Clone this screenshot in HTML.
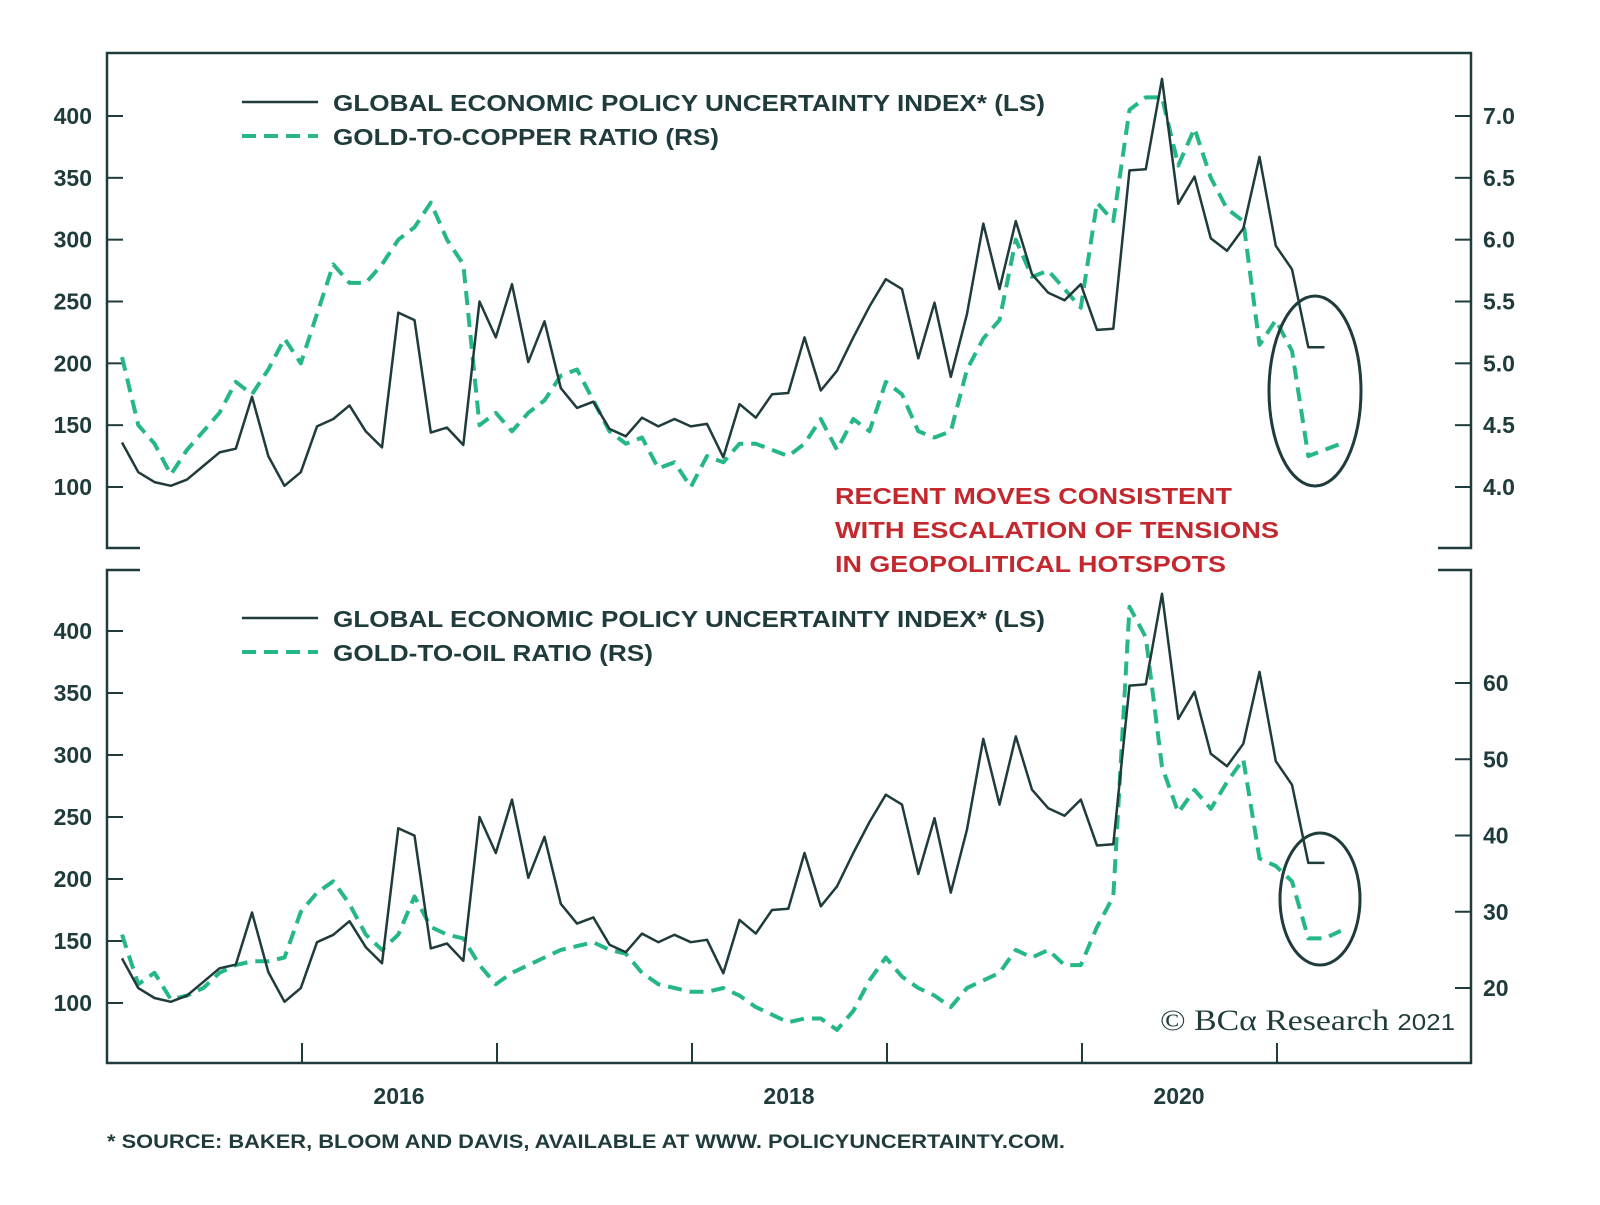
<!DOCTYPE html>
<html><head><meta charset="utf-8"><style>
html,body{margin:0;padding:0;background:#fff;}
svg{display:block;font-family:"Liberation Sans",Arial,sans-serif;}
</style></head><body>
<svg id="chart" width="1600" height="1205" viewBox="0 0 1600 1205" xmlns="http://www.w3.org/2000/svg"></svg>
<script>
const epu=[136,112,104,101,106,117,128,131,173,125,101,112,149,155,166,145,132,241,235,144,148,134,250,221,264,201,234,180,164,169,147,141,156,149,155,149,151,124,167,156,175,176,221,178,194,221,246,268,260,204,249,189,240,313,260,315,272,257,251,264,227,228,356,357,430,329,351,301,291,309,367,295,276,213,213];
const goldCopper=[5.05,4.5,4.35,4.1,4.3,4.45,4.6,4.85,4.75,4.95,5.2,5.0,5.4,5.8,5.65,5.65,5.8,6.0,6.1,6.3,6.0,5.8,4.5,4.6,4.45,4.6,4.7,4.9,4.95,4.7,4.45,4.35,4.4,4.15,4.2,4.0,4.25,4.2,4.35,4.35,4.3,4.25,4.35,4.55,4.3,4.55,4.45,4.85,4.75,4.45,4.4,4.45,4.95,5.2,5.35,6.0,5.7,5.75,5.6,5.45,6.3,6.15,7.05,7.15,7.15,6.6,6.9,6.5,6.25,6.15,5.15,5.35,5.1,4.25,4.3,4.35];
const goldOil=[27,20.5,22,18.5,19,20,22,23,23.5,23.5,24,30,32.5,34,31,27,25,27,32,28,27,26.5,23,20.5,22,23,24,25,25.5,26,25,24.5,22,20.5,20,19.5,19.5,20,19,17.5,16.5,15.5,16,16,14.5,17,21,24,21.5,20,19,17.5,20,21,22,25,24,25,23,23,28,32,70,66,49,43,46,43.5,47,50,37,36,34,26.5,26.5,27.5];
const leftTicks=[100,150,200,250,300,350,400];
const rightTopTicks=["4.0","4.5","5.0","5.5","6.0","6.5","7.0"];
const rightBotTicks=[20,30,40,50,60];
const yearLabels=["2016","2018","2020"];

const svg=document.getElementById('chart');
const NS='http://www.w3.org/2000/svg';
const DARK='#1f3b3b',GREEN='#25b886',RED='#c3282e';
function el(t,a,p){const e=document.createElementNS(NS,t);for(const k in a)e.setAttribute(k,a[k]);(p||svg).appendChild(e);return e;}
const xOf=i=>122+i*16.25;
const yL1=v=>487-(v-100)*371/300;
const yR1=v=>487-(v-4)*371/3;
const yL2=v=>1003-(v-100)*372/300;
const yR2=v=>988-(v-20)*305/40;
const yearX=y=>302+(y-2016)*195;

let f=el('path',{d:'M140,548 H107 V53 H1471 V548 H1438',fill:'none',stroke:DARK,'stroke-width':2.5});

f=el('path',{d:'M140,570 H107 V1063 H1471 V570 H1438',fill:'none',stroke:DARK,'stroke-width':2.5});


function txt(x,y,s,opts,name,len){const o=Object.assign({x:x,y:y,fill:DARK,'font-size':23,'font-weight':'bold'},opts||{});if(len){o.textLength=len;o.lengthAdjust='spacingAndGlyphs';}const t=el('text',o);t.textContent=s;return t;}

leftTicks.forEach(v=>{
  [yL1(v),yL2(v)].forEach((y,k)=>{
    const l=el('line',{x1:107,x2:123,y1:y,y2:y,stroke:DARK,'stroke-width':2});
    
    txt(92,y+8,String(v),{'text-anchor':'end'},k?'bottom-left-tick-label':'top-left-tick-label');
  });
});
rightTopTicks.forEach(s=>{const y=yR1(parseFloat(s));
  const l=el('line',{x1:1455,x2:1471,y1:y,y2:y,stroke:DARK,'stroke-width':2});
  
  txt(1483,y+8,s,{},'top-right-tick-label');});
rightBotTicks.forEach(v=>{const y=yR2(v);
  const l=el('line',{x1:1455,x2:1471,y1:y,y2:y,stroke:DARK,'stroke-width':2});
  
  txt(1483,y+8,String(v),{},'bottom-right-tick-label');});
for(let y=2016;y<=2021;y++){const x=yearX(y);
  const l=el('line',{x1:x,x2:x,y1:1063,y2:1043,stroke:DARK,'stroke-width':2});
  }
yearLabels.forEach(s=>{const y=+s;txt(yearX(y)+97,1104,s,{'text-anchor':'middle'},'x-tick-label');});

function line(arr,yf,color,dash,name){
  const d=arr.map((v,i)=>(i?'L':'M')+xOf(i).toFixed(1)+','+yf(v).toFixed(1)).join(' ');
  const p=el('path',{d:d,fill:'none',stroke:color,'stroke-width':dash?4:2.5,'stroke-linejoin':'round'});
  if(dash)p.setAttribute('stroke-dasharray','14,8');
  
}
line(goldCopper,yR1,GREEN,true,'gold-copper-line');
line(epu,yL1,DARK,false,'epu-line-top');
line(goldOil,yR2,GREEN,true,'gold-oil-line');
line(epu,yL2,DARK,false,'epu-line-bottom');

function legend(y,label,dash,name,len){
  const l=el('line',{x1:242,x2:318,y1:y-9,y2:y-9,stroke:dash?GREEN:DARK,'stroke-width':dash?4:2.5});
  if(dash)l.setAttribute('stroke-dasharray','14,8');
  
  txt(333,y,label,{},name,len);
}
legend(111,'GLOBAL ECONOMIC POLICY UNCERTAINTY INDEX* (LS)',false,'legend-epu-top',712);
legend(145,'GOLD-TO-COPPER RATIO (RS)',true,'legend-gold-copper',386);
legend(627,'GLOBAL ECONOMIC POLICY UNCERTAINTY INDEX* (LS)',false,'legend-epu-bottom',712);
legend(661,'GOLD-TO-OIL RATIO (RS)',true,'legend-gold-oil',320);

txt(835,504,'RECENT MOVES CONSISTENT',{fill:RED},'annotation-line-1',397);
txt(835,538,'WITH ESCALATION OF TENSIONS',{fill:RED},'annotation-line-2',444);
txt(835,572,'IN GEOPOLITICAL HOTSPOTS',{fill:RED},'annotation-line-3',391);
let e=el('ellipse',{cx:1315,cy:391,rx:46,ry:95,fill:'none',stroke:DARK,'stroke-width':3});

e=el('ellipse',{cx:1320,cy:899,rx:40,ry:66,fill:'none',stroke:DARK,'stroke-width':3});


const cr=el('text',{x:1160,y:1030,fill:DARK,'font-size':30,'font-family':'"Liberation Serif",serif',textLength:295,lengthAdjust:'spacingAndGlyphs'});
cr.innerHTML='© BCα Research <tspan font-size="23" font-family="Liberation Sans,sans-serif">2021</tspan>';

txt(107,1148,'* SOURCE: BAKER, BLOOM AND DAVIS, AVAILABLE AT WWW. POLICYUNCERTAINTY.COM.',{'font-size':19},'source-note',958);
</script>
</body></html>
